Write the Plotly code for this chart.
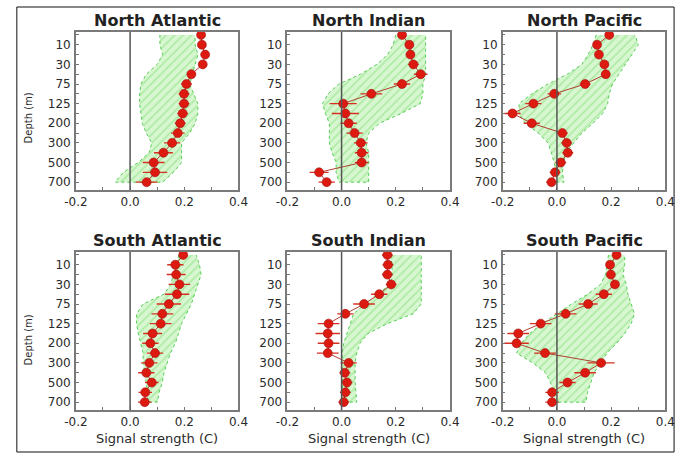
import plotly.graph_objects as go

W, H = 686, 456

depths = [0, 10, 20, 30, 50, 75, 100, 125, 150, 200, 250, 300, 400, 500, 600, 700]
depth_labels = [str(d) if i % 2 == 1 else "" for i, d in enumerate(depths)]
x_tick_vals = [-0.2, 0.0, 0.2, 0.4]
x_tick_text = ["-0.2", "0.0", "0.2", "0.4"]

titles = ["North Atlantic", "North Indian", "North Pacific",
          "South Atlantic", "South Indian", "South Pacific"]

# observed signal (red dots)
obs_na = [0.262, 0.265, 0.277, 0.268, 0.226, 0.208, 0.199, 0.199, 0.194, 0.185, 0.176, 0.155, 0.123, 0.087, 0.092, 0.061]
obs_ni = [0.223, 0.250, 0.254, 0.265, 0.292, 0.223, 0.110, 0.006, 0.014, 0.026, 0.048, 0.071, 0.074, 0.074, -0.083, -0.055]
obs_np = [0.193, 0.148, 0.155, 0.175, 0.180, 0.104, -0.010, -0.087, -0.164, -0.093, 0.020, 0.036, 0.040, 0.014, -0.007, -0.020]
obs_sa = [0.196, 0.167, 0.170, 0.182, 0.173, 0.143, 0.119, 0.113, 0.083, 0.075, 0.092, 0.071, 0.060, 0.080, 0.056, 0.054]
obs_si = [0.169, 0.171, 0.169, 0.183, 0.139, 0.083, 0.014, -0.048, -0.051, -0.048, -0.051, 0.026, 0.012, 0.020, 0.014, 0.008]
obs_sp = [0.220, 0.196, 0.199, 0.214, 0.173, 0.115, 0.032, -0.060, -0.143, -0.149, -0.044, 0.163, 0.104, 0.039, -0.018, -0.018]

# observed uncertainty (half-width of horizontal bars)
err_na = [0.01, 0.01, 0.01, 0.01, 0.015, 0.02, 0.02, 0.02, 0.02, 0.02, 0.025, 0.03, 0.035, 0.04, 0.045, 0.04]
err_ni = [0.015, 0.015, 0.015, 0.02, 0.025, 0.03, 0.04, 0.05, 0.05, 0.03, 0.03, 0.025, 0.025, 0.025, 0.035, 0.03]
err_np = [0.01, 0.015, 0.015, 0.015, 0.015, 0.02, 0.025, 0.03, 0.03, 0.03, 0.02, 0.02, 0.02, 0.02, 0.02, 0.02]
err_sa = [0.015, 0.03, 0.035, 0.04, 0.045, 0.045, 0.04, 0.04, 0.035, 0.03, 0.03, 0.03, 0.03, 0.025, 0.025, 0.025]
err_si = [0.02, 0.02, 0.02, 0.02, 0.03, 0.04, 0.03, 0.04, 0.045, 0.04, 0.04, 0.03, 0.02, 0.02, 0.02, 0.02]
err_sp = [0.015, 0.015, 0.015, 0.015, 0.03, 0.035, 0.04, 0.04, 0.04, 0.045, 0.04, 0.05, 0.04, 0.03, 0.025, 0.025]

# model range (green band)
low_na = [0.11, 0.11, 0.12, 0.10, 0.06, 0.04, 0.035, 0.035, 0.04, 0.045, 0.06, 0.08, 0.07, 0.03, -0.025, -0.055]
up_na = [0.24, 0.24, 0.25, 0.24, 0.23, 0.22, 0.235, 0.25, 0.25, 0.24, 0.22, 0.19, 0.19, 0.19, 0.16, 0.12]
low_ni = [0.20, 0.19, 0.17, 0.13, 0.07, -0.01, -0.05, -0.07, -0.06, -0.045, -0.045, -0.045, -0.035, -0.02, -0.02, -0.01]
up_ni = [0.31, 0.31, 0.31, 0.31, 0.31, 0.30, 0.30, 0.29, 0.22, 0.14, 0.10, 0.09, 0.10, 0.10, 0.10, 0.10]
low_np = [0.145, 0.133, 0.115, 0.092, 0.038, -0.033, -0.093, -0.14, -0.14, -0.117, -0.069, -0.033, -0.021, -0.01, -0.004, 0.002]
up_np = [0.288, 0.30, 0.276, 0.252, 0.229, 0.205, 0.193, 0.187, 0.169, 0.133, 0.092, 0.062, 0.032, 0.026, 0.02, 0.026]
low_sa = [0.18, 0.17, 0.16, 0.15, 0.125, 0.048, 0.024, 0.024, 0.03, 0.04, 0.048, 0.048, 0.054, 0.06, 0.065, 0.065]
up_sa = [0.244, 0.256, 0.262, 0.25, 0.238, 0.226, 0.208, 0.19, 0.178, 0.167, 0.149, 0.137, 0.125, 0.119, 0.107, 0.101]
low_si = [0.18, 0.186, 0.186, 0.18, 0.133, 0.086, 0.044, 0.032, 0.02, 0.008, 0.002, 0.002, 0.002, 0.002, 0.002, 0.004]
up_si = [0.294, 0.294, 0.294, 0.294, 0.294, 0.294, 0.264, 0.169, 0.098, 0.068, 0.056, 0.05, 0.05, 0.05, 0.052, 0.056]
low_sp = [0.19, 0.185, 0.179, 0.161, 0.113, 0.054, 0.0, -0.054, -0.101, -0.131, -0.149, -0.089, -0.042, -0.024, -0.012, -0.006]
up_sp = [0.25, 0.25, 0.244, 0.256, 0.262, 0.274, 0.286, 0.274, 0.25, 0.22, 0.185, 0.161, 0.137, 0.125, 0.113, 0.107]

obs = [obs_na, obs_ni, obs_np, obs_sa, obs_si, obs_sp]
errs = [err_na, err_ni, err_np, err_sa, err_si, err_sp]
lows = [low_na, low_ni, low_np, low_sa, low_si, low_sp]
ups = [up_na, up_ni, up_np, up_sa, up_si, up_sp]

# layout in pixels
col_px = [(66, 234), (284.5, 452.5), (507, 675)]
row_px = [(32, 190), (252, 410)]

levels = list(range(len(depths)))

fig = go.Figure()
TICKFONT = dict(family="DejaVu Sans", size=12, color="#2a2a2a")

for k in range(6):
    r, c = divmod(k, 3)
    ax = "" if k == 0 else str(k + 1)
    xr, yr = "x" + ax, "y" + ax
    lo, up = lows[k], ups[k]
    fig.add_trace(go.Scatter(
        x=lo + up[::-1], y=levels + levels[::-1], xaxis=xr, yaxis=yr,
        mode="lines", fill="toself",
        fillcolor="#d6f7cf",
        fillpattern=dict(shape="/", fgcolor="#7fdc74", bgcolor="#d6f7cf",
                         size=6, solidity=0.25),
        line=dict(color="#55cc55", width=1, dash="dot"),
        hoverinfo="skip", showlegend=False))
    fig.add_trace(go.Scatter(
        x=obs[k], y=levels, xaxis=xr, yaxis=yr,
        mode="lines+markers",
        line=dict(color="#b04030", width=1),
        marker=dict(size=9, color="#dd1a10", line=dict(color="#a01010", width=0.6)),
        error_x=dict(type="data", array=errs[k], color="#d83020", thickness=1.4, width=0),
        showlegend=False))

    x0, x1 = col_px[c]
    y0, y1 = row_px[r]
    fig.layout["xaxis" + ax] = dict(
        domain=[x0 / W, x1 / W], anchor=yr, range=[-0.2, 0.4],
        tickmode="array", tickvals=x_tick_vals, ticktext=x_tick_text,
        ticks="inside", ticklen=3, tickcolor="#777",
        minor=dict(tickmode="linear", tick0=-0.2, dtick=0.1, ticks="inside",
                   ticklen=3, tickcolor="#777"),
        showline=True, mirror=True, linecolor="#7a7a7a", linewidth=1.5,
        showgrid=False, zeroline=False, tickfont=TICKFONT)
    fig.layout["yaxis" + ax] = dict(
        domain=[1 - y1 / H, 1 - y0 / H], anchor=xr, range=[15.8, -0.3],
        tickmode="array", tickvals=levels, ticktext=depth_labels,
        ticks="inside", ticklen=3, tickcolor="#777",
        showline=True, mirror=True, linecolor="#7a7a7a", linewidth=1.5,
        showgrid=False, zeroline=False, tickfont=TICKFONT, ticklabelstandoff=1)
    # zero reference line
    fig.add_shape(type="line", xref=xr, yref=yr + " domain", x0=0, x1=0, y0=0, y1=1,
                  line=dict(color="#555", width=1.5), layer="above")
    # panel title
    fig.add_annotation(text="<b>" + titles[k] + "</b>", xref="paper", yref="paper",
                       x=(x0 + x1) / 2 / W, y=1 - (y0 - 12) / H,
                       xanchor="center", yanchor="middle",
                       showarrow=False, font=dict(family="DejaVu Sans", size=16, color="#222"))
    if r == 1:
        fig.add_annotation(text="Signal strength (C)", xref="paper", yref="paper",
                           x=(x0 + x1) / 2 / W, y=1 - 438 / H, showarrow=False,
                           xanchor="center", yanchor="middle",
                           font=dict(family="DejaVu Sans", size=13, color="#2a2a2a"))
    if c == 0:
        fig.add_annotation(text="Depth (m)", xref="paper", yref="paper",
                           x=17 / W, y=1 - (118 if r == 0 else 340) / H, textangle=-90,
                           xanchor="center", yanchor="middle", showarrow=False,
                           font=dict(family="DejaVu Sans", size=10, color="#2a2a2a"))

fig.add_shape(type="rect", xref="paper", yref="paper",
              x0=5 / W, x1=684 / W, y0=1 - 452 / H, y1=1 - 7 / H,
              line=dict(color="#111", width=1))

fig.update_layout(width=W, height=H, margin=dict(l=0, r=0, t=0, b=0),
                  paper_bgcolor="white", plot_bgcolor="white")
fig.write_html("out.html")
